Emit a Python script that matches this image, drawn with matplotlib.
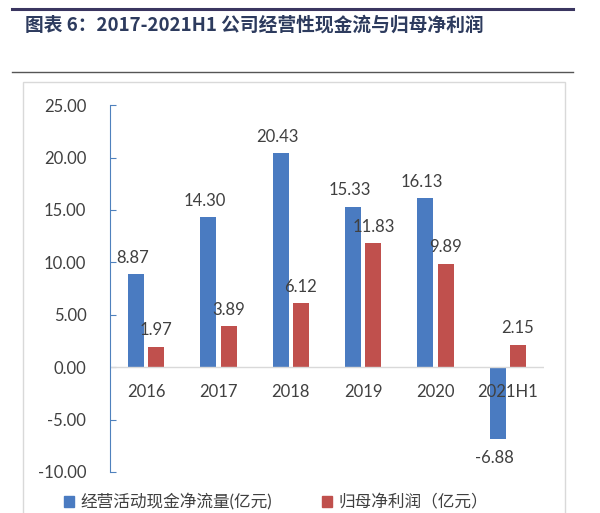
import matplotlib
matplotlib.use("Agg")
import numpy as np
from matplotlib import pyplot as plt
from matplotlib.patches import Rectangle
from matplotlib.lines import Line2D

plt.rcParams['font.family'] = ['Lato', 'Noto Sans CJK SC', 'DejaVu Sans']

categories = ['2016', '2017', '2018', '2019', '2020', '2021H1']
cash_flow = [8.87, 14.30, 20.43, 15.33, 16.13, -6.88]
net_profit = [1.97, 3.89, 6.12, 11.83, 9.89, 2.15]
yticks = [-10, -5, 0, 5, 10, 15, 20, 25]
title = '图表 6：2017-2021H1 公司经营性现金流与归母净利润'
legend_labels = ['经营活动现金净流量(亿元)', '归母净利润（亿元）']

blue = '#4a7bc1'
red = '#c0504d'
txt = '#404040'

fig = plt.figure(figsize=(6, 5.13), dpi=100)

# 顶部标题区
fig.add_artist(Line2D([0.02, 0.955], [0.982, 0.982], color='#3a3560', lw=2.2))
fig.text(0.042, 0.951, title, fontsize=13.5, color='#2d3b5e', va='center', ha='left',
         fontweight='bold', family=['Noto Sans CJK SC', 'DejaVu Sans'])
fig.add_artist(Line2D([0.02, 0.955], [0.86, 0.86], color='#555555', lw=1.0))
# 图表外框
fig.add_artist(Rectangle((0.038, -0.1), 0.904, 0.94, fill=False, ec='#d9d9d9', lw=1.0))

ax = fig.add_axes([0.1833, 0.08, 0.7234, 0.715])
x = np.arange(len(categories))
w = 0.22
off = 0.14
ax.bar(x - off, cash_flow, w, color=blue)
ax.bar(x + off, net_profit, w, color=red)

for xi, v in zip(x, cash_flow):
    ax.annotate('%.2f' % v, (xi - off - 0.05, v), xytext=(0, 6 if v >= 0 else -8),
                textcoords='offset points', ha='center', va='bottom' if v >= 0 else 'top',
                fontsize=12, color=txt)
for xi, v in zip(x, net_profit):
    ax.annotate('%.2f' % v, (xi + off, v), xytext=(0, 6),
                textcoords='offset points', ha='center', va='bottom',
                fontsize=12, color=txt)

ax.set_xlim(-0.5, len(categories) - 0.5)
ax.set_ylim(-10, 25)
ax.set_yticks(yticks)
ax.set_yticklabels(['%.2f' % t for t in yticks], fontsize=12, color=txt)
ax.tick_params(axis='y', direction='in', length=4, color='#4f81bd', pad=17)
ax.set_xticks([])
for xi, c in zip(x, categories):
    ax.text(xi, -1.6, c, ha='center', va='top', fontsize=12, color=txt)

for s in ['top', 'right', 'bottom']:
    ax.spines[s].set_visible(False)
ax.spines['left'].set_color('#4f81bd')
ax.axhline(0, color='#d9d9d9', lw=1.0)

# 图例
handles = [Rectangle((0, 0), 1, 1, color=blue), Rectangle((0, 0), 1, 1, color=red)]
fig.legend(handles, legend_labels, loc='center', bbox_to_anchor=(0.46, 0.022),
           ncol=2, frameon=False, fontsize=12, handlelength=0.6, handleheight=0.6,
           columnspacing=3.0, handletextpad=0.4, labelcolor=txt)

fig.savefig('out.png', dpi=100)
